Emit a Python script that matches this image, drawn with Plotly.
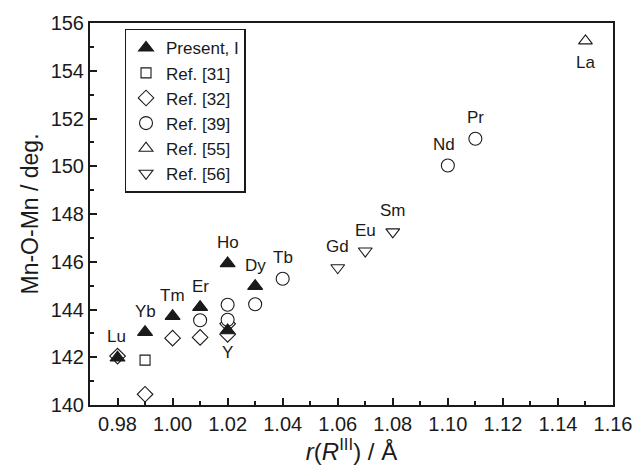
import plotly.graph_objects as go

# Present work, I (filled up-triangles)
present_r = [0.98, 0.99, 1.00, 1.01, 1.02, 1.02, 1.03]
present_a = [141.98, 143.05, 143.72, 144.10, 145.93, 143.12, 144.98]
present_lbl = ["Lu", "Yb", "Tm", "Er", "Ho", "Y", "Dy"]

ref31_r = [0.99]
ref31_a = [141.88]

ref32_r = [0.98, 0.99, 1.00, 1.01, 1.02, 1.02]
ref32_a = [142.05, 140.45, 142.80, 142.83, 143.40, 142.96]

ref39_r = [1.01, 1.02, 1.02, 1.03, 1.04, 1.10, 1.11]
ref39_a = [143.55, 144.20, 143.57, 144.22, 145.29, 150.03, 151.15]
ref39_lbl = [None, None, None, None, "Tb", "Nd", "Pr"]

ref55_r = [1.15]
ref55_a = [155.25]
ref55_lbl = ["La"]

ref56_r = [1.06, 1.07, 1.08]
ref56_a = [145.75, 146.45, 147.25]
ref56_lbl = ["Gd", "Eu", "Sm"]

FONT = "Liberation Sans, Arial, sans-serif"
INK = "#1a1a1a"

fig = go.Figure()

def add(r, a, name, symbol, size, fill, rank):
    fig.add_trace(go.Scatter(
        x=r, y=a, mode="markers", name=name, legendrank=rank,
        marker=dict(symbol=symbol, size=size, color=fill,
                    line=dict(color=INK, width=1.1)),
    ))

add(ref31_r, ref31_a, "Ref. [31]", "square", 10, "white", 2)
add(ref32_r, ref32_a, "Ref. [32]", "diamond", 12, "white", 3)
add(ref39_r, ref39_a, "Ref. [39]", "circle", 13, "white", 4)
add(ref55_r, ref55_a, "Ref. [55]", "triangle-up", 12, "white", 5)
add(ref56_r, ref56_a, "Ref. [56]", "triangle-down", 12, "white", 6)
add(present_r, present_a, "Present, I", "triangle-up", 13, INK, 1)

# labels (below for Y and La, above otherwise)
below = {"Y", "La"}
xshifts = {"Nd": -4, "Lu": -1}

def label(rs, as_, lbls):
    for r, a, t in zip(rs, as_, lbls):
        if not t:
            continue
        ys = -22 if t in below else 21
        fig.add_annotation(x=r, y=a, text=t, showarrow=False,
                           xshift=xshifts.get(t, 0), yshift=ys,
                           font=dict(family=FONT, size=17, color=INK))

label(present_r, present_a, present_lbl)
label(ref39_r, ref39_a, ref39_lbl)
label(ref55_r, ref55_a, ref55_lbl)
label(ref56_r, ref56_a, ref56_lbl)

axis_common = dict(
    showline=True, linecolor=INK, linewidth=2, mirror=True,
    ticks="inside", ticklen=7, tickwidth=2, tickcolor=INK,
    showgrid=False, zeroline=False,
    tickfont=dict(family=FONT, size=20, color=INK),
)

fig.update_xaxes(range=[0.97, 1.16], tick0=0.98, dtick=0.02, tickformat=".2f",
                 minor=dict(dtick=0.01, tick0=0.97, ticks="inside", ticklen=4,
                            tickwidth=2, tickcolor=INK),
                 title=dict(text="<i>r</i>(<i>R</i><sup>III</sup>) / Å",
                            font=dict(family=FONT, size=24, color=INK),
                            standoff=4),
                 **axis_common)
fig.update_yaxes(range=[140, 156], tick0=140, dtick=2,
                 minor=dict(dtick=1, ticks="inside", ticklen=4,
                            tickwidth=2, tickcolor=INK),
                 title=dict(text="Mn-O-Mn / deg.",
                            font=dict(family=FONT, size=23, color=INK),
                            standoff=6),
                 **axis_common)

fig.update_layout(
    width=644, height=473,
    margin=dict(l=90, r=24, t=17, b=68),
    plot_bgcolor="white", paper_bgcolor="white",
    showlegend=True,
    legend=dict(x=0.066, y=0.985, xanchor="left", yanchor="top",
                bordercolor=INK, borderwidth=1.5, bgcolor="white",
                font=dict(family=FONT, size=17, color=INK),
                itemwidth=30, tracegroupgap=0),
)

fig.write_html("out.html")
